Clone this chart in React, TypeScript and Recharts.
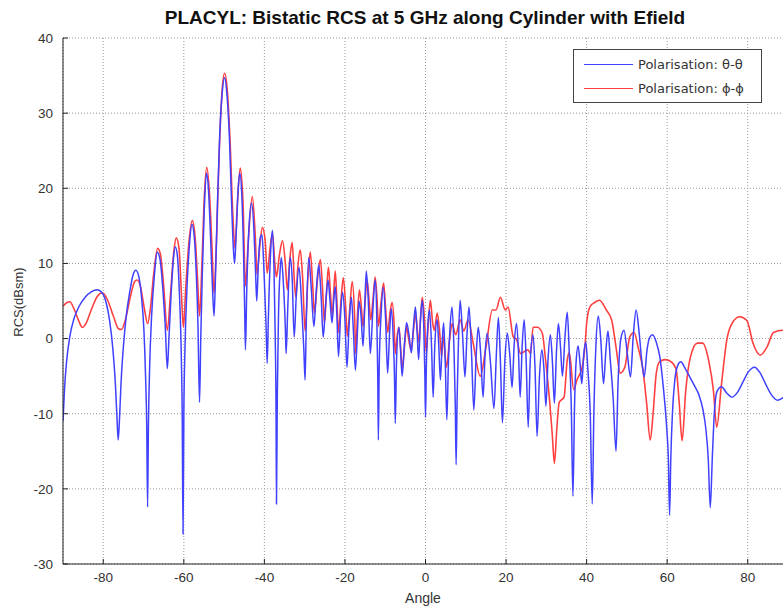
import { LineChart, Line, XAxis, YAxis, CartesianGrid } from "recharts";

// theta-theta polarisation (blue)
const thetaAngle = [
  -90, -89.6, -89.1, -88.3, -87.3, -86, -84.5, -83, -81.5, -80.3, -79.3, -78.4, -77.6, -77, -76.6, -76.3, -76, -75.6, -75, -74.3,
  -73.4, -72.6, -71.9, -71.2, -70.5, -69.9, -69.5, -69.2, -69, -68.8, -68.5, -68, -67.3, -66.6, -65.9, -65.2, -64.6, -64.1, -63.7, -63.1,
  -62.6, -62.1, -61.6, -61.1, -60.6, -60.4, -60.2, -60, -59.7, -59.2, -58.6, -58, -57.4, -56.9, -56.5, -56.1, -55.8, -55.4, -54.9, -54.4,
  -53.9, -53.4, -52.9, -52.5, -52.1, -51.6, -51.1, -50.5, -49.9, -49.3, -48.7, -48.2, -47.7, -47.4, -47, -46.5, -46.1, -45.6, -45.2, -44.9,
  -44.7, -44.4, -43.9, -43.2, -42.6, -42.2, -41.9, -41.5, -41, -40.6, -40.1, -39.6, -39.3, -39, -38.5, -38, -37.6, -37.3, -37.1, -37,
  -36.8, -36.5, -36.1, -35.8, -35.3, -34.8, -34.6, -34.2, -33.6, -33.1, -32.6, -32.1, -31.4, -30.8, -30.2, -29.9, -29.6, -29, -28.4, -27.7,
  -27.1, -26.5, -25.9, -25.4, -24.8, -24.2, -23.7, -23.2, -22.8, -22.4, -22, -21.6, -21.1, -20.6, -20, -19.5, -19, -18.4, -17.9, -17.4,
  -16.9, -16.5, -16, -15.5, -15.1, -14.7, -14.2, -13.7, -13.1, -12.5, -12.1, -11.85, -11.7, -11.5, -11, -10.5, -9.9, -9.4, -8.9, -8.5,
  -8, -7.7, -7.5, -7.2, -6.6, -6.2, -5.8, -5.2, -4.7, -4.1, -3.5, -3, -2.5, -2.1, -1.7, -1.3, -0.8, -0.4, -0.15, 0,
  0.2, 0.6, 1, 1.5, 1.9, 2.3, 2.9, 3.3, 3.7, 4.1, 4.5, 4.9, 5.3, 5.7, 6.1, 6.6, 7.1, 7.4, 7.6, 7.85,
  8.2, 8.6, 9.2, 9.8, 10.3, 10.8, 11.4, 12, 12.6, 13.1, 13.7, 14.3, 14.8, 15.3, 16.1, 17, 17.6, 18.1, 18.6, 19.1,
  19.7, 20.3, 20.9, 21.5, 22, 22.6, 23.1, 23.5, 24, 24.5, 25, 25.5, 26, 26.7, 27.2, 27.7, 28.3, 28.9, 29.4, 29.9,
  30.4, 31, 31.5, 32, 32.5, 33, 33.5, 34, 34.6, 35.2, 35.7, 36.2, 36.6, 37, 37.4, 37.9, 38.4, 38.8, 39.3, 39.8,
  40.3, 40.9, 41.4, 41.8, 42.3, 42.9, 43.5, 44.2, 44.8, 45.3, 45.9, 46.6, 47.3, 47.8, 48.5, 49.3, 50.1, 50.9, 51.6, 52.3,
  53, 53.7, 54.3, 55, 55.7, 56.4, 57.3, 58.2, 59.1, 59.9, 60.3, 60.6, 60.9, 61.3, 61.9, 62.6, 63.4, 64.3, 65.5, 66.8,
  67.9, 68.9, 69.6, 70.2, 70.7, 71.2, 71.7, 72.4, 73.5, 74.7, 76.1, 77.4, 78.8, 80.2, 81.7, 83, 84.4, 85.9, 87.4, 88.7,
  90,
];
const thetaRcs = [
  -11, -6.5, -3, 0.3, 2.6, 4.3, 5.5, 6.2, 6.5, 6.1, 4.8, 2.3, -1.5, -6, -10.5, -13.5, -11, -6, -1, 3,
  6.3, 8.5, 9.1, 8.3, 5.5, 1, -5, -12, -22.4, -12, -4, 3, 8.5, 11.5, 10.5, 6.5, 1.5, -4, 0, 6.5,
  10.5, 12.2, 11, 6, -3, -10, -26, -10, -1, 7, 12.5, 15.2, 13.5, 8.5, 2, -8.5, 0, 9, 17.5, 22,
  20, 14, 7, 3, 9, 19, 27, 32.5, 34.7, 32.5, 27, 19, 12, 10, 14, 20, 22, 19, 12, 4,
  -1.5, 6, 14, 18, 14.5, 9, 5, 10, 13.5, 13.8, 9, 2, -3.3, 3, 11, 14.4, 9, 0, -10, -22,
  -8, 3, 9, 10.8, 7.5, 1.5, -2, 4, 10.8, 8, 0.2, 5.5, 9.5, 5, -1.5, -5.5, 2, 10.8, 7, 1.6,
  6.5, 9.8, 5.5, 0.2, 4.5, 7.8, 5, 2.1, 5, 6.9, 3, -2.4, 3, 6.2, 2.5, -3.8, 1.5, 5.5, 1, -4.2,
  1, 5, 3, -1, 4, 9, 5, -2, 3.5, 7.8, 3, -5, -13.5, -4, 3.5, 6.8, 2.5, -4.6, 1, 4,
  0, -5, -11.3, -3, 1.5, -1.5, -5, -0.5, 2.1, 0.5, -1.9, 1.5, 4.2, 1, -2.8, 2, 5.1, 1, -5, -10.5,
  -4, 2, 3.8, -1, -7.8, -1, 2.5, -1, -5.5, -1, 2.1, -3, -10.8, -3, 1.5, 4.2, -2, -9, -16.8, -8,
  0, 5.1, 0.5, -5.1, 0.5, 4.2, -1.5, -9.5, -2, 1.5, -2, -7.8, -2, 0.7, -3, -9.3, -2, 2.8, -3, -11.2,
  -3, 0.7, -2, -6.5, -1, 2, -2, -7.8, -1, 2.5, -3, -11.8, -3, 0.5, -4, -13, -5, -1.5, -4, -9,
  -3, 0.5, -3, -8.6, -2, 2, -1, -5, 0, 3.5, -2, -9, -21, -9, -3, -1, -3.5, -6, -2, -0.5,
  -4, -10, -22, -10, -1, 3, 0, -6, -1.5, 1, -3, -8, -15, -6, 0, 1.1, -2, -5.1, 0.5, 3.8,
  1, -3, -5.1, -1.5, 0.2, 0.5, -0.5, -2.5, -6.8, -12, -16, -23.5, -16, -10, -5.5, -3.6, -3.1, -3.8, -5, -6.3,
  -7.5, -9.5, -12, -16, -22.5, -16, -10, -7, -6.4, -7.2, -7.8, -7.2, -5.8, -4.4, -3.8, -4.5, -6, -7.5, -8.2, -7.9,
  -7.4,
];

// phi-phi polarisation (red)
const phiAngle = [
  -90, -89, -88.3, -87.3, -86.2, -85.2, -84.3, -83, -81.5, -80.2, -79, -77.5, -76.2, -75.5, -74.5, -73.3, -72.2, -71.6, -70.8, -69.8,
  -69, -68.3, -67.5, -66.5, -65.8, -65, -64.1, -63.3, -62.5, -61.9, -61.2, -60.6, -60.1, -59.5, -58.7, -57.9, -57.2, -56.6, -56.1, -55.5,
  -54.9, -54.3, -53.6, -53, -52.5, -51.9, -51.2, -50.5, -49.9, -49.2, -48.5, -47.8, -47.3, -46.7, -46, -45.3, -44.7, -44, -43, -42.3,
  -41.8, -41.2, -40.5, -39.8, -39.3, -38.6, -38, -37.4, -37, -36.3, -35.5, -34.8, -34.3, -33.7, -33.1, -32.6, -32.2, -31.7, -31.1, -30.5,
  -29.9, -29.2, -28.6, -28, -27.6, -26.8, -26.1, -25.5, -25.1, -24.6, -24.1, -23.6, -23.1, -22.8, -22.4, -22, -21.6, -21, -20.4, -19.8,
  -19.4, -18.8, -18.2, -17.6, -17.3, -16.9, -16.4, -15.9, -15.5, -15, -14.5, -14, -13.6, -13, -12.5, -12, -11.7, -11, -10.4, -9.9,
  -9.4, -8.8, -8.3, -7.8, -7.5, -7, -6.6, -6.2, -5.8, -5.2, -4.7, -4.2, -3.6, -3, -2.5, -2, -1.6, -1.2, -0.8, -0.3,
  0.2, 0.7, 1.2, 1.8, 2.2, 2.9, 3.5, 4, 4.4, 5.2, 6, 6.6, 7.5, 8.6, 9.5, 10.6, 11.8, 13.6, 15, 16.6,
  17.5, 18.6, 19.8, 20.5, 21.8, 22.6, 23.6, 25.4, 26.1, 26.7, 27.8, 29, 29.8, 30.8, 31.5, 32, 32.6, 33.2, 34.4, 35.2,
  35.7, 36.8, 37.6, 38.9, 39.6, 40, 40.8, 42, 43.2, 44.9, 46.2, 47.4, 48.3, 49.5, 50.7, 51.8, 52.8, 54, 54.9, 55.8,
  56.5, 57.3, 58.1, 59.5, 61, 62.2, 63, 63.7, 64.6, 65.8, 67.5, 68.8, 70.3, 71.5, 72.3, 73.5, 74.8, 76.3, 78, 79.8,
  81.3, 83.1, 84.8, 86.4, 88.7, 90,
];
const phiRcs = [
  4.3, 4.8, 4.9, 4, 2.5, 1.5, 2, 3.8, 5.6, 6.1, 5.2, 3, 1.3, 1.2, 2.5, 5.5, 7.6, 7.8, 7, 4,
  2, 4, 8.5, 12, 11.2, 7, 1.1, 6, 11.5, 13.4, 12, 6, 1.5, 7, 13, 15.7, 13.5, 8, 3, 10,
  19, 22.8, 19, 12, 6, 13, 25, 33, 35.3, 33, 26, 16, 12, 18, 22.7, 18, 7, 13, 18.9, 14,
  8.5, 12, 14.8, 13, 8.7, 12, 14, 10, 8.2, 11, 13, 10, 6.5, 10.5, 12.8, 8, 5.5, 9.5, 11.8, 8,
  1, 8, 11.5, 7, 3.4, 8, 10.5, 6, 2.1, 6, 9.5, 6, 3, 6, 9, 5, 0.8, 5, 8.1, 4,
  0.3, 4, 7.6, 3, -2, 3, 6.5, 4, 1.6, 5, 7.8, 5, 2.5, 5.5, 8.2, 5, 1.6, 5, 7.4, 4,
  0.8, 3.5, 4.8, 2, -2, 0.5, 1.5, -1, -4, -1, 1.6, 0, -1.5, 1, 3.3, 1, -0.5, 3, 5.5, 3,
  -1.9, 2, 5.1, 2, 1.1, 3.4, 1, -2.4, 0.3, -3.8, 0, 2, 0.5, 2.5, 1, 2.5, -0.5, -5, -1.2, 3.8,
  3.8, 5.5, 3.8, 4.2, 0.2, -0.1, -2, -1.5, -2, 1.5, 1.5, 0.7, -2.8, -8.2, -13, -16.6, -12, -8.5, -7.8, -2.8,
  -1.9, -6.8, -5.5, -3.8, -1, 2, 4.2, 4.8, 5.1, 3.8, 2.5, -1.5, -4.6, -3.8, 0.2, 0.8, -1.2, -4.2, -8.6, -13.5,
  -10, -4.6, -3.1, -2.8, -3.1, -4, -8.6, -13.6, -7, -2.4, -0.6, -0.6, -2.9, -7, -11.8, -6, -0.2, 2.2, 2.9, 2.4,
  -0.6, -2.2, -1.1, 0.8, 1.1, 1,
];

const xTicks = [-80, -60, -40, -20, 0, 20, 40, 60, 80];
const yTicks = [-30, -20, -10, 0, 10, 20, 30, 40];

const thetaData = thetaAngle.map((a, i) => ({ angle: a, rcs: thetaRcs[i] }));
const phiData = phiAngle.map((a, i) => ({ angle: a, rcs: phiRcs[i] }));

const BLUE = "#4040ff";
const RED = "#ff4040";
const tickStyle = { fill: "#333", fontSize: 13.5, fontFamily: "Liberation Sans, Arial, sans-serif" };

export default function App() {
  return (
    <div style={{ position: "absolute", left: 0, top: 0, width: 783, height: 613, overflow: "hidden", background: "#fff" }}>
      <div
        style={{
          position: "absolute", left: 125, top: 8, width: 600, textAlign: "center",
          fontFamily: "Liberation Sans, Arial, sans-serif", fontWeight: "bold", fontSize: 19, lineHeight: "19px", color: "#111",
        }}
      >
        PLACYL: Bistatic RCS at 5 GHz along Cylinder with Efield
      </div>
      <LineChart width={800} height={613} margin={{ top: 38, right: 12, bottom: 19, left: 0 }}>
        <CartesianGrid stroke="#999" strokeDasharray="1 2" />
        <XAxis
          type="number"
          dataKey="angle"
          domain={[-90, 90]}
          ticks={xTicks}
          allowDataOverflow
          height={30}
          stroke="#222"
          tickSize={-5}
          tickMargin={13}
          tick={tickStyle}
        />
        <YAxis
          type="number"
          dataKey="rcs"
          domain={[-30, 40]}
          ticks={yTicks}
          allowDataOverflow
          width={63}
          stroke="#222"
          tickSize={-5}
          tickMargin={15}
          tick={tickStyle}
        />
        <Line data={phiData} dataKey="rcs" type="monotone" stroke={RED} strokeWidth={1.6} dot={false} isAnimationActive={false} />
        <Line data={thetaData} dataKey="rcs" type="monotone" stroke={BLUE} strokeWidth={1.5} dot={false} isAnimationActive={false} />
      </LineChart>
      <div
        style={{
          position: "absolute", left: 10, top: 302, transform: "translate(-50%, -50%) rotate(-90deg)", marginLeft: 8,
          fontFamily: "Liberation Sans, Arial, sans-serif", fontSize: 13, color: "#333", whiteSpace: "nowrap",
        }}
      >
        RCS(dBsm)
      </div>
      <div
        style={{
          position: "absolute", left: 373, top: 590, width: 100, textAlign: "center",
          fontFamily: "Liberation Sans, Arial, sans-serif", fontSize: 14, color: "#333",
        }}
      >
        Angle
      </div>
      <div
        style={{
          position: "absolute", left: 573, top: 49, width: 187, height: 52, border: "1px solid #444", background: "#fff",
          fontFamily: "DejaVu Sans, sans-serif", fontSize: 13, color: "#333",
        }}
      >
        {[
          { color: BLUE, label: "Polarisation: θ-θ" },
          { color: RED, label: "Polarisation: ϕ-ϕ" },
        ].map((item, i) => (
          <div key={i} style={{ position: "absolute", left: 10, top: 5 + i * 24, height: 18, display: "flex", alignItems: "center" }}>
            <div style={{ width: 49, height: 0, borderTop: `1.5px solid ${item.color}`, marginRight: 5 }} />
            <span>{item.label}</span>
          </div>
        ))}
      </div>
    </div>
  );
}
